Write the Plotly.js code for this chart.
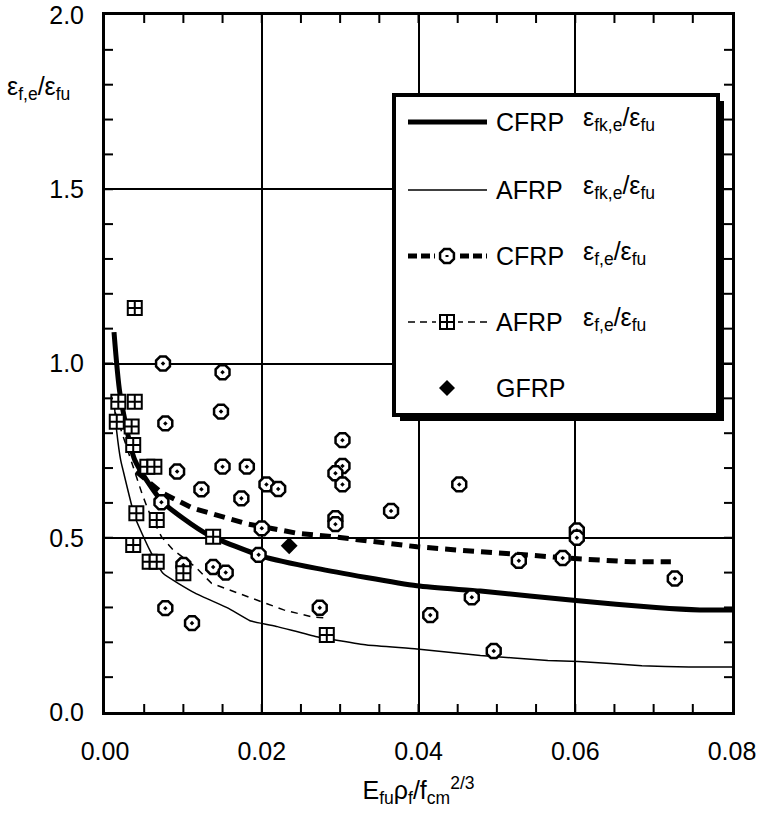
<!DOCTYPE html>
<html><head><meta charset="utf-8">
<script src="https://cdn.plot.ly/plotly-3.0.1.min.js"></script>
<style>html,body{margin:0;padding:0;background:#fff}</style>
</head><body><div id="chart" style="width:759px;height:826px"></div>
<script>
// ---- data ----
var cfrpPtX = [0.0074,0.0150,0.0148,0.0077,0.0092,0.0150,0.0181,0.0206,0.0221,0.0123,0.0174,0.0072,0.0200,0.0196,0.0138,0.0154,0.0100,0.0077,0.0111,0.0303,0.0303,0.0294,0.0303,0.0452,0.0365,0.0294,0.0294,0.0274,0.0415,0.0468,0.0496,0.0602,0.0602,0.0528,0.0584,0.0727];
var cfrpPtY = [1.00,0.975,0.862,0.828,0.690,0.704,0.704,0.653,0.640,0.639,0.613,0.602,0.527,0.451,0.416,0.400,0.422,0.298,0.255,0.780,0.706,0.685,0.653,0.653,0.577,0.556,0.539,0.299,0.278,0.329,0.175,0.521,0.500,0.434,0.442,0.383];
var afrpPtX = [0.0038,0.0017,0.0038,0.0015,0.0034,0.0036,0.0054,0.0063,0.0040,0.0066,0.0138,0.0036,0.0057,0.0066,0.0100,0.0283];
var afrpPtY = [1.159,0.890,0.890,0.833,0.819,0.766,0.704,0.704,0.570,0.551,0.503,0.479,0.431,0.431,0.398,0.221];
var gfrpX = [0.0235];
var gfrpY = [0.477];
var cfrpModelX = [0.00115,0.0019,0.0038,0.0072,0.0100,0.0132,0.0202,0.0270,0.0398,0.0479,0.0604,0.0703,0.0759,0.0800];
var cfrpModelY = [1.09,0.915,0.723,0.606,0.555,0.508,0.446,0.412,0.362,0.347,0.319,0.300,0.293,0.293];
var afrpModelX = [0.0012,0.0015,0.0020,0.0023,0.0038,0.0057,0.0074,0.0115,0.0157,0.0185,0.0220,0.0270,0.0334,0.0398,0.0479,0.0565,0.0604,0.0685,0.0745,0.0800];
var afrpModelY = [0.88,0.804,0.723,0.694,0.560,0.465,0.398,0.341,0.298,0.262,0.245,0.216,0.192,0.181,0.162,0.148,0.145,0.133,0.129,0.129];
var cfrpExpX = [0.0040,0.0072,0.0094,0.0112,0.0135,0.0159,0.0181,0.0200,0.0245,0.0291,0.0355,0.0398,0.0449,0.0495,0.0556,0.0608,0.0672,0.0722];
var cfrpExpY = [0.69,0.63,0.605,0.585,0.57,0.553,0.54,0.532,0.513,0.503,0.484,0.474,0.465,0.457,0.448,0.439,0.431,0.431];
var afrpExpX = [0.0013,0.0040,0.0047,0.0055,0.0072,0.0087,0.0115,0.0136,0.0170,0.0187,0.0228,0.0264,0.0285];
var afrpExpY = [0.86,0.675,0.628,0.580,0.503,0.465,0.417,0.369,0.341,0.326,0.293,0.273,0.269];
var xTickVals = [0,0.02,0.04,0.06,0.08];
var xTickText = ["0.00","0.02","0.04","0.06","0.08"];
var yTickVals = [0,0.5,1.0,1.5,2.0];
var yTickText = ["0.0","0.5","1.0","1.5","2.0"];
var legendMaterial = ["CFRP","AFRP","CFRP","AFRP","GFRP"];
var legendRatio = ["ε<sub>fk,e</sub>/ε<sub>fu</sub>","ε<sub>fk,e</sub>/ε<sub>fu</sub>","ε<sub>f,e</sub>/ε<sub>fu</sub>","ε<sub>f,e</sub>/ε<sub>fu</sub>",""];
var yTitle = "ε<sub>f,e</sub>/ε<sub>fu</sub>";
var xTitle = "E<sub>fu</sub>ρ<sub>f</sub>/f<sub>cm</sub><sup>2/3</sup>";

// ---- layout helpers (pixel -> paper) ----
var W = 759, H = 826, L = 105, R = 732, T = 15, B = 712;
function px(x){ return (x - L) / (R - L); }
function py(y){ return (B - y) / (B - T); }
var FONT = "Liberation Sans, Arial, sans-serif";
var X_RANGE = [0, 0.08], Y_RANGE = [0, 2];
var X_MINOR = 0.005, Y_MINOR = 0.1, TICK_LEN = 8;

var traces = [
  {x: cfrpModelX, y: cfrpModelY, mode: "lines", line: {color: "black", width: 5, shape: "spline", smoothing: 0.6}, showlegend: false, hoverinfo: "skip"},
  {x: afrpModelX, y: afrpModelY, mode: "lines", line: {color: "black", width: 1.5, shape: "spline", smoothing: 0.4}, showlegend: false, hoverinfo: "skip"},
  {x: cfrpExpX, y: cfrpExpY, mode: "lines", line: {color: "black", width: 5, dash: "11px,7px"}, showlegend: false, hoverinfo: "skip"},
  {x: afrpExpX, y: afrpExpY, mode: "lines", line: {color: "black", width: 1.5, dash: "7px,6px"}, showlegend: false, hoverinfo: "skip"},
  {x: cfrpPtX, y: cfrpPtY, mode: "markers", marker: {symbol: "octagon-dot", size: 15, color: "white", line: {color: "black", width: 2.5}}, showlegend: false},
  {x: afrpPtX, y: afrpPtY, mode: "markers", marker: {symbol: "square-cross", size: 14, color: "white", line: {color: "black", width: 2}}, showlegend: false},
  {x: gfrpX, y: gfrpY, mode: "markers", marker: {symbol: "diamond", size: 13, color: "black", line: {width: 0}}, showlegend: false}
];

var shapes = [];
var annotations = [];

// ---- minor tick marks on all four sides (inside), positioned on the axes' own scales ----
var nx = Math.round((X_RANGE[1] - X_RANGE[0]) / X_MINOR);
for (var j = 1; j < nx; j++){
  var xv = X_RANGE[0] + j * X_MINOR;
  shapes.push({type: "line", xref: "x", yref: "paper", ysizemode: "pixel", yanchor: 0, x0: xv, x1: xv, y0: 0, y1: TICK_LEN, line: {color: "black", width: 2}, layer: "above"});
  shapes.push({type: "line", xref: "x", yref: "paper", ysizemode: "pixel", yanchor: 1, x0: xv, x1: xv, y0: 0, y1: -TICK_LEN, line: {color: "black", width: 2}, layer: "above"});
}
var ny = Math.round((Y_RANGE[1] - Y_RANGE[0]) / Y_MINOR);
for (var j2 = 1; j2 < ny; j2++){
  var yv = Y_RANGE[0] + j2 * Y_MINOR;
  shapes.push({type: "line", xref: "paper", yref: "y", xsizemode: "pixel", xanchor: 0, x0: 0, x1: TICK_LEN, y0: yv, y1: yv, line: {color: "black", width: 2}, layer: "above"});
  shapes.push({type: "line", xref: "paper", yref: "y", xsizemode: "pixel", xanchor: 1, x0: 0, x1: -TICK_LEN, y0: yv, y1: yv, line: {color: "black", width: 2}, layer: "above"});
}

// ---- custom legend ----
var boxL = 394, boxT = 95, boxR = 718, boxB = 415, sh = 6;
shapes.push({type: "rect", xref: "paper", yref: "paper", x0: px(boxL + sh), x1: px(boxR + sh), y0: py(boxT + sh), y1: py(boxB + sh), fillcolor: "black", line: {width: 0}, layer: "above"});
shapes.push({type: "rect", xref: "paper", yref: "paper", x0: px(boxL), x1: px(boxR), y0: py(boxT), y1: py(boxB), fillcolor: "white", line: {color: "black", width: 4}, layer: "above"});
var rows = [122, 190, 256, 322, 388];
var lx0 = 408, lx1 = 487, mx = 447;
function hline(y, w, dash){
  shapes.push({type: "line", xref: "paper", yref: "paper", x0: px(lx0), x1: px(lx1), y0: py(y), y1: py(y), line: {color: "black", width: w, dash: dash || "solid"}, layer: "above"});
}
function pathAt(x, y, path, fill, lw){
  shapes.push({type: "path", xref: "paper", yref: "paper", xsizemode: "pixel", ysizemode: "pixel", xanchor: px(x), yanchor: py(y), path: path, fillcolor: fill, line: {color: "black", width: lw}, layer: "above"});
}
hline(rows[0], 5);
hline(rows[1], 1.5);
hline(rows[2], 5, "9px,4px");
hline(rows[3], 1.5, "7px,5px");
var oct = "", r = 7.5;
for (var k = 0; k < 8; k++){ var a = (22.5 + 45*k) * Math.PI/180; oct += (k ? "L" : "M") + (r*Math.cos(a)).toFixed(2) + "," + (r*Math.sin(a)).toFixed(2); }
oct += "Z";
pathAt(mx, rows[2], "M-12,-4H12V4H-12Z", "white", 0);
pathAt(mx, rows[2], oct, "white", 2.5);
pathAt(mx, rows[2], "M-1.5,0H1.5", "black", 2);
pathAt(mx, rows[3], "M-11,-8H11V8H-11Z", "white", 0);
pathAt(mx, rows[3], "M-7,-7H7V7H-7Z M0,-7V7 M-7,0H7", "white", 2);
pathAt(mx, rows[4], "M0,-8L8,0L0,8L-8,0Z", "black", 0);
for (var i = 0; i < rows.length; i++){
  annotations.push({xref: "paper", yref: "paper", x: px(494), y: py(rows[i]), xanchor: "left", yanchor: "middle", text: legendMaterial[i], showarrow: false, font: {family: FONT, size: 25, color: "black"}});
  if (legendRatio[i]) annotations.push({xref: "paper", yref: "paper", x: px(581), y: py(rows[i] - 3), xanchor: "left", yanchor: "middle", text: legendRatio[i], showarrow: false, font: {family: FONT, size: 25, color: "black"}});
}
annotations.push({xref: "paper", yref: "paper", x: px(5), y: py(88), xanchor: "left", yanchor: "middle", text: yTitle, showarrow: false, font: {family: FONT, size: 25, color: "black"}});

var layout = {
  width: W, height: H,
  margin: {l: L, r: W - R, t: T, b: H - B},
  paper_bgcolor: "white", plot_bgcolor: "white",
  font: {family: FONT, size: 25, color: "black"},
  showlegend: false,
  xaxis: {range: X_RANGE, tickmode: "array", tickvals: xTickVals, ticktext: xTickText,
    showgrid: true, gridcolor: "black", gridwidth: 2,
    zeroline: false, showline: true, linecolor: "black", linewidth: 3, mirror: true,
    ticks: "outside", ticklen: 15, tickwidth: 2, tickcolor: "rgba(0,0,0,0)",
    title: {text: xTitle, font: {family: FONT, size: 25}}},
  yaxis: {range: Y_RANGE, tickmode: "array", tickvals: yTickVals, ticktext: yTickText,
    showgrid: true, gridcolor: "black", gridwidth: 2,
    zeroline: false, showline: true, linecolor: "black", linewidth: 3, mirror: true,
    ticks: "outside", ticklen: 13, tickwidth: 2, tickcolor: "rgba(0,0,0,0)"},
  shapes: shapes,
  annotations: annotations
};
Plotly.newPlot("chart", traces, layout, {displayModeBar: false});
</script></body></html>
